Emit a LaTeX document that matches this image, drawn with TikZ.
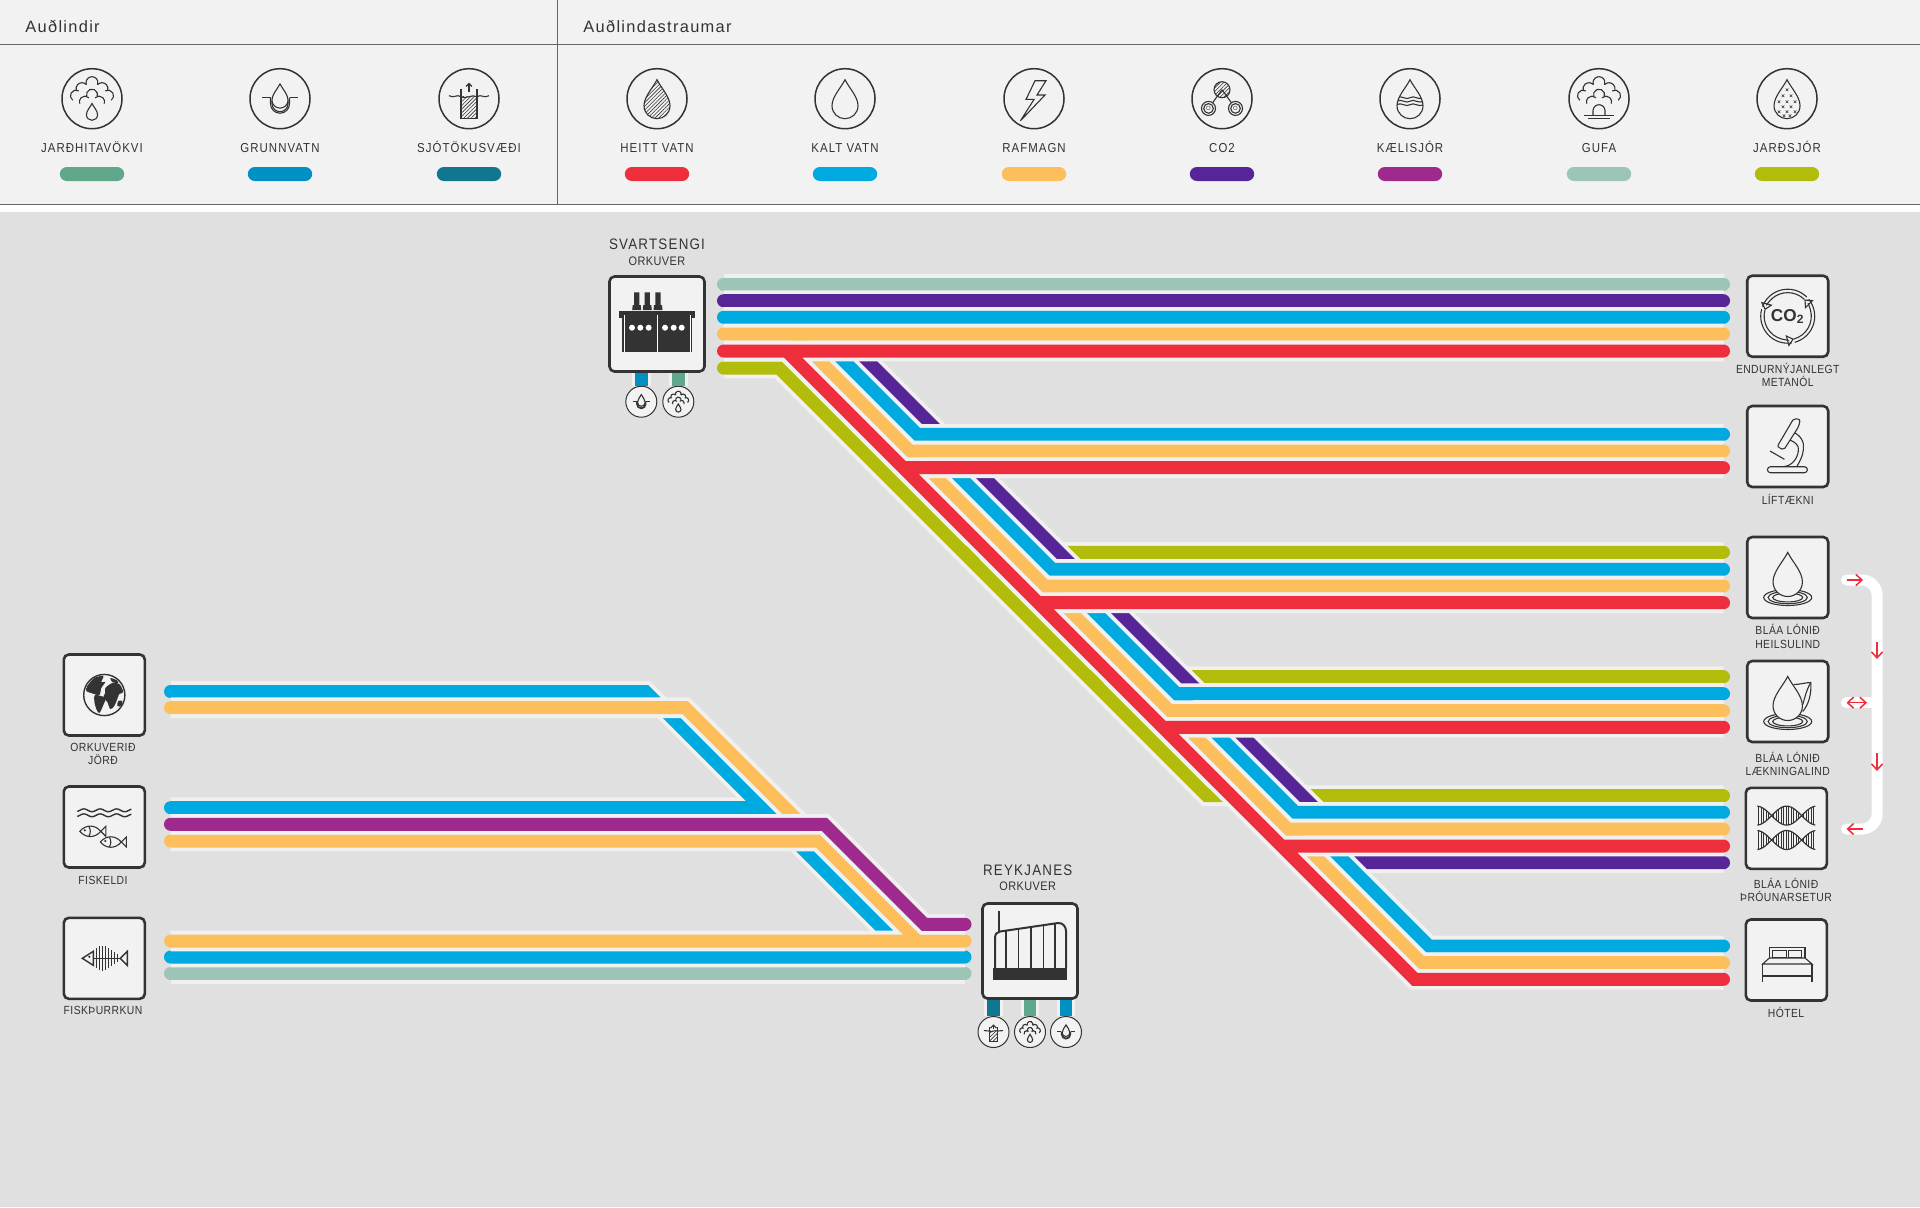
\documentclass[tikz,border=0pt]{standalone}
\usepackage{fontspec}
\setmainfont{Liberation Sans}
\newfontfamily\headfont[LetterSpace=8]{Liberation Sans}
\newfontfamily\labelfont[FakeStretch=.88,LetterSpace=8]{Liberation Sans}
\newfontfamily\placefont[FakeStretch=.88,LetterSpace=3.5]{Liberation Sans}
\usetikzlibrary{arrows.meta,patterns.meta}

\definecolor{panelbg}{HTML}{F2F2F2}
\definecolor{fieldbg}{HTML}{E0E0E0}
\definecolor{ruleline}{HTML}{666666}
\definecolor{inkgray}{HTML}{333333}
\definecolor{streamhalo}{HTML}{F0F0F0}
\definecolor{jardhiti}{HTML}{5FA88C}
\definecolor{grunnvatn}{HTML}{0090C3}
\definecolor{sjotaka}{HTML}{117791}
\definecolor{heitt}{HTML}{EE2D3D}
\definecolor{kalt}{HTML}{00A9E0}
\definecolor{rafmagn}{HTML}{FCBF5B}
\definecolor{koldioxid}{HTML}{562698}
\definecolor{kaeli}{HTML}{9D2A8C}
\definecolor{gufa}{HTML}{9CC5B5}
\definecolor{jardsjor}{HTML}{B2BD0B}

\newcommand{\droppath}{(0,-19) .. controls (4,-11) and (13,-2) .. (13,7) .. controls (13,14.5) and (7,20) .. (0,20) .. controls (-7,20) and (-13,14.5) .. (-13,7) .. controls (-13,-2) and (-4,-11) .. (0,-19) -- cycle}
\newcommand{\bump}[5]{\draw[iconline] ([shift={(#1,#2)}]#4:#3pt) arc[start angle=#4,end angle=#5,radius=#3pt];}
\newcommand{\puffs}{
  \bump{0}{-16}{3}{200}{-20}
  \bump{-10}{-10}{3}{45}{195}
  \bump{10}{-10}{3}{135}{-15}
  \bump{-16}{-3}{2.8}{60}{235}
  \bump{16}{-3}{2.8}{120}{-55}
  \bump{0}{-4}{2.8}{200}{-20}
  \bump{-7}{3}{2.8}{45}{200}
  \bump{7}{3}{2.8}{135}{-20}
}
\newcommand{\legenditem}[5]{
  \node[iconring] (#2) at (#1,98.7) {};
  \pic at (#2.center) {#5};
  \node[legendtext] (#2text) at (#1,148) {#3};
  \node[legendpill,fill=#4] (#2pill) at (#1,174) {};
}

\tikzset{
  iconline/.style={draw=inkgray,line width=.55pt},
  hatchfill/.style={pattern={Lines[angle=45,distance=1.3pt,line width=.3pt]},pattern color=inkgray},
  iconring/.style={circle,draw=inkgray,line width=.75pt,fill=panelbg,minimum size=30pt,inner sep=0pt},
  miniring/.style={circle,draw=inkgray,line width=.5pt,fill=panelbg,minimum size=15.5pt,inner sep=0pt},
  legendtext/.style={font=\labelfont\fontsize{6.5}{7}\selectfont,text=inkgray,inner sep=0pt,execute at begin node=\vphantom{Ó},yshift=.3pt},
  legendpill/.style={rectangle,rounded corners=3.5pt,minimum width=32.2pt,minimum height=7pt,inner sep=0pt},
  headtext/.style={font=\headfont\fontsize{8.2}{9}\selectfont,text=inkgray,anchor=west,inner sep=0pt},
  placebox/.style={rectangle,rounded corners=2.5pt,draw=inkgray,line width=1.3pt,fill=panelbg,minimum size=40.5pt,inner sep=0pt},
  plantbox/.style={placebox,minimum size=47.5pt},
  placetext/.style={font=\placefont\fontsize{5.9}{6.6}\selectfont,text=inkgray,align=center,inner sep=0pt,execute at begin node=\vphantom{Ó},yshift=.4pt},
  planttext/.style={font=\labelfont\fontsize{7.6}{8}\selectfont,text=inkgray,inner sep=0pt},
  plantsub/.style={font=\placefont\fontsize{6.2}{7}\selectfont,text=inkgray,inner sep=0pt},
  stream/.style={draw=#1,line width=6.5pt,line cap=round,preaction={draw=streamhalo,line width=10.3pt}},
  stem/.style={draw=#1,line width=6.3pt,preaction={draw=streamhalo,line width=9.3pt}},
  flowarrow/.style={draw=heitt,line width=.75pt,-{Straight Barb[length=3pt,width=5.5pt]}},
  flowboth/.style={draw=heitt,line width=.75pt,{Straight Barb[length=3pt,width=5.5pt]}-{Straight Barb[length=3pt,width=5.5pt]}},
  geothermal/.pic={
    \puffs
    \begin{scope}[shift={(0,13)},scale=.43]
      \draw[iconline] \droppath;
    \end{scope}
  },
  groundwater/.pic={
    \draw[iconline] (-18,-1) -- (-9.5,-1) (9.5,-1) -- (18,-1);
    \draw[iconline] (-9.5,-1) -- (-9.5,5) arc[start angle=180,end angle=360,radius=4.75pt] -- (9.5,-1);
    \draw[iconline] (-8,2) -- (-8,5) arc[start angle=180,end angle=360,radius=4pt] -- (8,2);
    \begin{scope}[shift={(0,-3)},scale=.62]
      \draw[iconline,fill=panelbg] \droppath;
    \end{scope}
  },
  seaintake/.pic={
    \fill[hatchfill] (-8,-2) rectangle (8,20);
    \draw[iconline] (-8,-10) -- (-8,20) -- (8,20) -- (8,-10);
    \draw[iconline] (-20,-3) .. controls (-15,0) and (-12,-5) .. (-8,-2) .. controls (-3,1) and (3,-5) .. (8,-2) .. controls (12,-5) and (15,0) .. (20,-3);
    \draw[iconline,-{Straight Barb[length=1.5pt,width=3pt]}] (0,-7) -- (0,-16);
  },
  hotdrop/.pic={\draw[iconline,hatchfill] \droppath;},
  colddrop/.pic={\draw[iconline] \droppath;},
  lightning/.pic={\draw[iconline] (12,-18) -- (1,-18) -- (-8,.7) -- (0,.7) -- (-13.5,22) -- (11,-3.7) -- (3,-3.7) -- cycle;},
  molecule/.pic={
    \draw[iconline] (0,-9) -- (-13.5,9.7) (0,-9) -- (13.5,9.7);
    \draw[iconline,fill=panelbg] (-13.5,9.7) circle[radius=3.5pt];
    \draw[iconline,fill=panelbg] (13.5,9.7) circle[radius=3.5pt];
    \draw[iconline] (-13.5,9.7) circle[radius=2.4pt];
    \draw[iconline] (13.5,9.7) circle[radius=2.4pt];
    \draw[iconline,fill=panelbg,hatchfill] (0,-9) circle[radius=4pt];
    \node[font=\fontsize{3}{3}\selectfont,text=inkgray,inner sep=0pt] (oxleft) at (-13.5,9.7) {O};
    \node[font=\fontsize{3}{3}\selectfont,text=inkgray,inner sep=0pt] (oxright) at (13.5,9.7) {O};
  },
  coolantdrop/.pic={
    \draw[iconline] \droppath;
    \begin{scope}
      \clip \droppath;
      \foreach \wy in {-1,2.5,6}
        \draw[iconline] (-14,\wy) .. controls (-8,\wy-3) and (-4,\wy+3) .. (0,\wy) .. controls (4,\wy-3) and (8,\wy+3) .. (14,\wy);
    \end{scope}
  },
  steam/.pic={
    \puffs
    \draw[iconline] (-6,17) -- (-6,12) arc[start angle=180,end angle=0,radius=3pt] -- (6,17);
    \draw[iconline,line width=.7pt] (-15,17) -- (15,17);
    \draw[iconline,line width=.5pt] (-11,19.5) -- (11,19.5);
  },
  crossdrop/.pic={
    \draw[iconline] \droppath;
    \foreach \cx/\cy in {0/-9,-4/-3,4/-3,-8/3,0/3,8/3,-4/8,4/8,-8/13,0/13,8/13,-3/17,3/17}
      \draw[inkgray,line width=.3pt] (\cx-1.3,\cy-1.3) -- (\cx+1.3,\cy+1.3) (\cx-1.3,\cy+1.3) -- (\cx+1.3,\cy-1.3);
  },
  geoplant/.pic={
    \fill[inkgray] (-37.7,-13.3) rectangle (38.3,-6.3);
    \fill[inkgray] (-35,-6.3) rectangle (35,27.7);
    \foreach \px in {-20.3,-9.7,1}
      \fill[inkgray] (\px-4.5,-14) -- (\px-4,-19) -- (\px-2.6,-19) -- (\px-2.6,-31.7) -- (\px+2.6,-31.7) -- (\px+2.6,-19) -- (\px+4,-19) -- (\px+4.5,-14) -- cycle;
    \foreach \px in {-32.7,0,33}
      \draw[white,line width=.5pt] (\px,-9) -- (\px,27.7);
    \foreach \px in {-25,-16.7,-8.3,8,16.7,24.7}
      \fill[white] (\px,3.7) circle[radius=1.5pt];
  },
  coastplant/.pic={
    \fill[inkgray] (-36.7,16.5) rectangle (36.7,29);
    \draw[inkgray,line width=1pt] (-35,17) -- (-35,-13) .. controls (-35,-17) and (-33,-19) .. (-30,-19.5) -- (28,-28) .. controls (33,-28.5) and (36,-24) .. (36,-20) -- (36,17);
    \foreach \px/\py in {-24/-20.4,-11.7/-22.2,.7/-24,13.3/-25.8,25/-27.6}
      \draw[inkgray,line width=.8pt] (\px,\py) -- (\px,17);
    \draw[inkgray,line width=1.1pt] (-31,-40) -- (-31,-19);
  },
  recycling/.pic={
    \foreach \ra/\rb in {165/285,285/405,45/165}{
      \draw[iconline] (\ra:13.5pt) arc[start angle=\ra,end angle=\rb-6,radius=13.5pt];
      \draw[iconline,-{Triangle[open,length=3.5pt,width=6pt]}] (\ra:11.8pt) arc[start angle=\ra,end angle=\rb,radius=11.8pt];
    }
    \node[font=\bfseries\fontsize{8.6}{10}\selectfont,text=inkgray,inner sep=0pt] (co2word) at (0,0) {CO\textsubscript{2}};
  },
  microscope/.pic={
    \draw[iconline,rounded corners=1.5pt] (-20.3,20.2) rectangle (19.7,26.2);
    \draw[iconline] (4,-15) .. controls (13,-12) and (17,-4) .. (15.7,3) .. controls (15,10) and (12,15) .. (9,20.2);
    \draw[iconline] (2.3,-6.5) .. controls (8,-4) and (11,-1) .. (10.7,3) .. controls (10.5,10) and (6,19) .. (-4.3,20.2);
    \draw[iconline,rounded corners=1pt,fill=panelbg] (6,-28) -- (12.5,-27) -- (11,-20) -- (-4,3.5) -- (-10.5,0) -- cycle;
    \draw[iconline] (-17.7,4.5) -- (-3.3,12.8);
  },
  lagoon/.pic={
    \draw[iconline] (0,20) ellipse[x radius=12pt,y radius=4pt];
    \draw[iconline] (0,20) ellipse[x radius=9.8pt,y radius=3.1pt];
    \draw[iconline] (0,20) ellipse[x radius=7.5pt,y radius=2.2pt];
    \begin{scope}[shift={(0,-3.6)},scale=1.13]
      \draw[iconline,fill=panelbg] \droppath;
    \end{scope}
  },
  healinglagoon/.pic={
    \draw[iconline] (6,-17) .. controls (12,-17) and (18,-19) .. (23,-19) .. controls (24,-8) and (21,3) .. (15,10);
    \draw[iconline] (23,-19) .. controls (18,-10) and (17,-3) .. (15,3);
    \pic {lagoon};
  },
  dnahelix/.pic={
    \foreach \ry in {-12.7,11.7}{
      \foreach \lx in {-28,-25.5,...,28}
        \draw[inkgray,line width=.25pt] (\lx,{\ry+9.5*sin(6*(\lx+14.7))}) -- (\lx,{\ry-9.5*sin(6*(\lx+14.7))});
      \draw[iconline,line width=.6pt,domain=-29:29,samples=50] plot (\x,{\ry+9.5*sin(6*(\x+14.7))});
      \draw[iconline,line width=.6pt,domain=-29:29,samples=50] plot (\x,{\ry-9.5*sin(6*(\x+14.7))});
    }
  },
  hotelbed/.pic={
    \draw[iconline] (-17,-2) -- (-17,-12.7) -- (18.7,-12.7) -- (18.7,-2);
    \draw[iconline] (-14,-9.3) rectangle (.3,-2.7) (2,-9.3) rectangle (15.3,-2.7);
    \draw[iconline] (-17,-2) -- (-23.7,4) -- (25.7,4) -- (18.7,-2) -- cycle;
    \draw[iconline] (-23.7,4) -- (-23.7,21.7) (25.7,4) -- (25.7,21.7) (-23.7,16) -- (25.7,16);
  },
  globeicon/.pic={
    \draw[inkgray,line width=.7pt] (0,0) circle[radius=10.3pt];
    \fill[inkgray] plot[smooth cycle] coordinates {(-17,-9) (-10,-17) (-1,-19) (-3,-13) (1,-13) (-3,-7) (-5,0) (-13,-2) (-18,-4)};
    \fill[inkgray] plot[smooth cycle] coordinates {(-9,0) (1,3) (-1,10) (-5,18) (-8,14) (-10,6)};
    \fill[inkgray] plot[smooth cycle] coordinates {(1,-7) (8,-12) (15,-11) (19,-3) (15,-1) (13,4) (10,11) (6,14) (3,7) (-1,2) (1,-2)};
    \fill[inkgray] plot[smooth cycle] coordinates {(14,6) (18,6) (17,11) (13,11)};
    \fill[inkgray] plot[smooth cycle] coordinates {(6,-17) (12,-15) (14,-12) (8,-13)};
  },
  oneFish/.pic={
    \draw[iconline] (-12,0) .. controls (-6,-7) and (3,-7) .. (9,0) .. controls (3,7) and (-6,7) .. (-12,0) -- cycle;
    \draw[iconline] (9,0) -- (14,-5) -- (14,5) -- cycle;
    \draw[iconline] (-3,-5) .. controls (-1,-2) and (-1,2) .. (-3,5);
    \fill[inkgray] (-7,-1) circle[radius=.6pt];
  },
  fishfarm/.pic={
    \foreach \wy in {-16.7,-11.7}
      \draw[iconline,line width=.7pt,domain=-27:27,samples=60] plot (\x,{\wy+1.4*sin(\x*22)});
    \pic at (-12.5,4.3) {oneFish};
    \pic at (8,15) {oneFish};
  },
  fishbone/.pic={
    \draw[iconline,line width=.7pt] (-22,0) -- (-11,-7) -- (-11,7) -- cycle;
    \draw[iconline,line width=.7pt] (-11,0) -- (16,0);
    \draw[iconline,line width=.7pt] (16,0) -- (23,-7) -- (23,7) -- cycle;
    \foreach \rx/\rh in {-8/10,-5/12,-2/12.5,1/12,4/10,7/8,10/6,13/4}
      \draw[iconline] (\rx,-\rh) -- (\rx,\rh);
    \fill[inkgray] (-15,-1.5) circle[radius=.6pt];
  }
}

\begin{document}
\begin{tikzpicture}[x=.5pt,y=-.5pt]
  \useasboundingbox (0,0) rectangle (1920,1207);
  \fill[white] (0,0) rectangle (1920,1207);
  \fill[panelbg] (0,0) rectangle (1920,204);
  \fill[fieldbg] (0,212) rectangle (1920,1207);
  \draw[ruleline,line width=.6pt] (0,44.3) -- (1920,44.3);
  \draw[ruleline,line width=.6pt] (0,204.3) -- (1920,204.3);
  \draw[ruleline,line width=.6pt] (557.5,0) -- (557.5,204.3);

  \node[headtext] (resources) at (25,27) {Auðlindir};
  \node[headtext] (flows) at (583,27) {Auðlindastraumar};

  \legenditem{92}{jardhitileg}{JARÐHITAVÖKVI}{jardhiti}{geothermal}
  \legenditem{280}{grunnleg}{GRUNNVATN}{grunnvatn}{groundwater}
  \legenditem{469}{sjotakaleg}{SJÓTÖKUSVÆÐI}{sjotaka}{seaintake}
  \legenditem{657}{heittleg}{HEITT VATN}{heitt}{hotdrop}
  \legenditem{845}{kaltleg}{KALT VATN}{kalt}{colddrop}
  \legenditem{1034}{rafleg}{RAFMAGN}{rafmagn}{lightning}
  \legenditem{1222}{koleg}{CO2}{koldioxid}{molecule}
  \legenditem{1410}{kaelileg}{KÆLISJÓR}{kaeli}{coolantdrop}
  \legenditem{1599}{gufaleg}{GUFA}{gufa}{steam}
  \legenditem{1787}{sjorleg}{JARÐSJÓR}{jardsjor}{crossdrop}

  % right hand network
  \draw[stream=gufa] (723.5,284) -- (1723.5,284);
  \draw[stream=jardsjor] (723.5,368) -- (779,368) -- (1206.7,795.7) -- (1723.5,795.7) (963.3,552.3) -- (1723.5,552.3) (1087.7,676.7) -- (1723.5,676.7);
  \draw[stream=koldioxid] (723.5,300.7) -- (1723.5,300.7) (807.4,300.7) -- (1369.4,862.7) -- (1723.5,862.7);
  \draw[stream=kalt] (723.5,317.3) -- (1723.5,317.3) (800.3,317.3) -- (1429,946) -- (1723.5,946) (917.3,434.3) -- (1723.5,434.3) (1052.3,569.3) -- (1723.5,569.3) (1176.7,693.7) -- (1723.5,693.7) (1295.3,812.3) -- (1723.5,812.3);
  \draw[stream=rafmagn] (723.5,334) -- (1723.5,334) (792.8,334) -- (1421.5,962.7) -- (1723.5,962.7) (909.8,451) -- (1723.5,451) (1044.8,586) -- (1723.5,586) (1169.5,710.7) -- (1723.5,710.7) (1287.8,829) -- (1723.5,829);
  \draw[stream=heitt] (723.5,351) -- (1723.5,351) (786.5,351) -- (1414.8,979.3) -- (1723.5,979.3) (903.2,467.7) -- (1723.5,467.7) (1038.2,602.7) -- (1723.5,602.7) (1162.8,727.3) -- (1723.5,727.3) (1281.5,846) -- (1723.5,846);

  % left hand network
  \draw[stream=gufa] (170.5,973.3) -- (965,973.3);
  \draw[stream=kalt] (170.5,691.5) -- (645.5,691.5) -- (911,957) (170.5,807.7) -- (762,807.7) (170.5,957) -- (965,957);
  \draw[stream=rafmagn] (170.5,707.7) -- (685.2,707.7) -- (918.5,941) (170.5,841) -- (818.5,841) (170.5,941) -- (965,941);
  \draw[stream=kaeli] (170.5,824.3) -- (824.3,824.3) -- (924.3,924.3) -- (965,924.3);

  % plants
  \node[planttext] (svartsengi) at (657,244) {SVARTSENGI};
  \node[plantsub] (svartsub) at (657,261) {ORKUVER};
  \node[plantbox] (svbox) at (657,324) {};
  \pic at (svbox.center) {geoplant};
  \node[miniring] (svgrunn) at (641.3,401.7) {};
  \node[miniring] (svhiti) at (678.3,401.7) {};
  \pic[scale=.48] at (svgrunn.center) {groundwater};
  \pic[scale=.48] at (svhiti.center) {geothermal};
  \draw[stem=grunnvatn] (svbox.south -| svgrunn) -- (svgrunn.north);
  \draw[stem=jardhiti] (svbox.south -| svhiti) -- (svhiti.north);

  \node[planttext] (reykjanes) at (1027.7,870) {REYKJANES};
  \node[plantsub] (reykjasub) at (1027.7,886.7) {ORKUVER};
  \node[plantbox] (rebox) at (1030,951) {};
  \pic at (rebox.center) {coastplant};
  \node[miniring] (resjo) at (993.5,1032) {};
  \node[miniring] (rehiti) at (1030,1032) {};
  \node[miniring] (regrunn) at (1066,1032) {};
  \pic[scale=.48] at (resjo.center) {seaintake};
  \pic[scale=.48] at (rehiti.center) {geothermal};
  \pic[scale=.48] at (regrunn.center) {groundwater};
  \draw[stem=sjotaka] (rebox.south -| resjo) -- (resjo.north);
  \draw[stem=jardhiti] (rebox.south -| rehiti) -- (rehiti.north);
  \draw[stem=grunnvatn] (rebox.south -| regrunn) -- (regrunn.north);

  % users on the right
  \node[placebox] (metanol) at (1787.7,316.2) {};
  \pic at (metanol.center) {recycling};
  \node[placetext] (metanoltext) at (1787.7,375.8) {ENDURNÝJANLEGT\\METANÓL};
  \node[placebox] (liftaekni) at (1787.7,446.5) {};
  \pic at (liftaekni.center) {microscope};
  \node[placetext] (liftaeknitext) at (1787.7,500) {LÍFTÆKNI};
  \node[placebox] (heilsulind) at (1787.7,577.5) {};
  \pic at (heilsulind.center) {lagoon};
  \node[placetext] (heilsutext) at (1787.7,637.3) {BLÁA LÓNIÐ\\HEILSULIND};
  \node[placebox] (laekning) at (1787.7,701.5) {};
  \pic at (laekning.center) {healinglagoon};
  \node[placetext] (laekningtext) at (1787.7,764.5) {BLÁA LÓNIÐ\\LÆKNINGALIND};
  \node[placebox] (throun) at (1786.3,828.3) {};
  \pic at (throun.center) {dnahelix};
  \node[placetext] (thrountext) at (1786,890.5) {BLÁA LÓNIÐ\\ÞRÓUNARSETUR};
  \node[placebox] (hotel) at (1786.3,960) {};
  \pic at (hotel.center) {hotelbed};
  \node[placetext] (hoteltext) at (1786,1013) {HÓTEL};

  % users on the left
  \node[placebox] (jord) at (104.3,695) {};
  \pic at (jord.center) {globeicon};
  \node[placetext] (jordtext) at (103,755) {ORKUVERIÐ\\JÖRÐ};
  \node[placebox] (fiskeldi) at (104.3,827) {};
  \pic at (fiskeldi.center) {fishfarm};
  \node[placetext] (fiskelditext) at (103,880) {FISKELDI};
  \node[placebox] (fiskthurrk) at (104.3,958.3) {};
  \pic at (fiskthurrk.center) {fishbone};
  \node[placetext] (fiskthurrktext) at (103,1010.7) {FISKÞURRKUN};

  % lagoon exchange
  \coordinate (exchtop) at (1846.5,580);
  \coordinate (exchmid) at (1846.5,702.7);
  \coordinate (exchend) at (1846.5,829);
  \draw[white,line width=5.5pt,line cap=round,rounded corners=7.5pt] (exchtop) -- (1877,580) -- (1877,829) -- (exchend);
  \draw[white,line width=5.5pt,line cap=round] (exchmid) -- (1877,702.7);
  \draw[flowarrow] (exchtop) -- (1863,580);
  \draw[flowarrow] (1877,642) -- (1877,659);
  \draw[flowboth] (exchmid) -- (1867,702.7);
  \draw[flowarrow] (1877,753) -- (1877,771);
  \draw[flowarrow] (1863,829) -- (exchend);
\end{tikzpicture}
\end{document}
